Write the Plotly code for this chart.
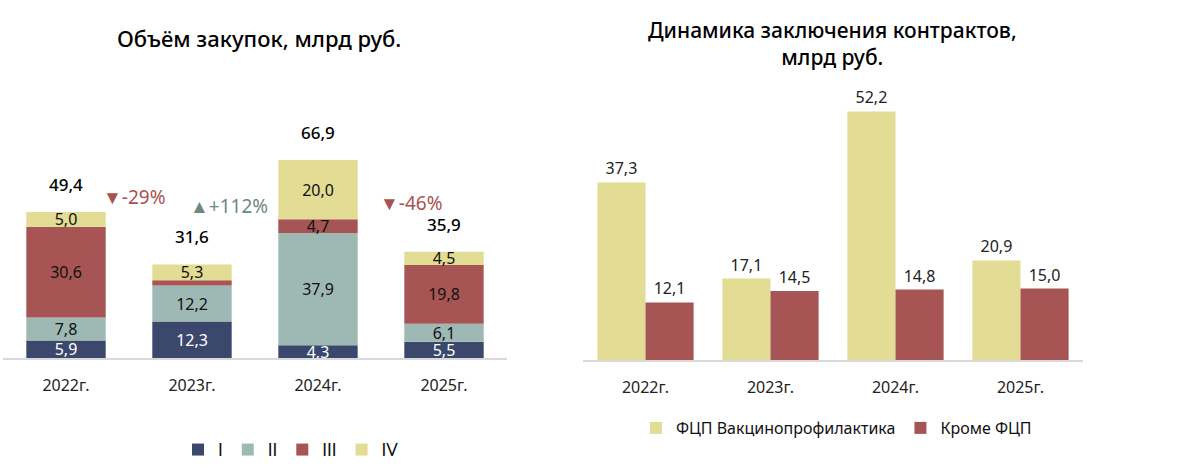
import plotly.graph_objects as go
from plotly.subplots import make_subplots

years = ["2022г.", "2023г.", "2024г.", "2025г."]

# Объём закупок по кварталам, млрд руб.
q1 = [5.9, 12.3, 4.3, 5.5]
q2 = [7.8, 12.2, 37.9, 6.1]
q3 = [30.6, 1.8, 4.7, 19.8]
q4 = [5.0, 5.3, 20.0, 4.5]
totals = [49.4, 31.6, 66.9, 35.9]
changes = ["▼-29%", "▲+112%", "▼-46%"]

# Динамика заключения контрактов, млрд руб.
fcp = [37.3, 17.1, 52.2, 20.9]
krome = [12.1, 14.5, 14.8, 15.0]

c_q1 = "#3b486b"
c_q2 = "#9eb8b4"
c_q3 = "#a65554"
c_q4 = "#e2dc94"
red_txt = "#a9524f"
grn_txt = "#6f8683"
FONT = "Noto Sans"


def lab(vals, skip=()):
    return ["" if i in skip else f"{v:.1f}".replace(".", ",") for i, v in enumerate(vals)]


fig = make_subplots(rows=1, cols=2)

# накопленное основание для ручного стека (overlay-режим)
base = [0.0] * len(years)
quarters = [("I", q1, c_q1, "white", ()), ("II", q2, c_q2, "#111", ()),
            ("III", q3, c_q3, "#111", (1,)), ("IV", q4, c_q4, "#111", ())]
for name, vals, col, tcol, skip in quarters:
    fig.add_trace(go.Bar(x=years, y=vals, base=list(base), name=name,
                         marker=dict(color=col, line=dict(width=0)), width=0.63,
                         text=lab(vals, skip), textposition="inside", insidetextanchor="middle",
                         textfont=dict(color=tcol, size=16, family=FONT), constraintext="none",
                         legend="legend"), row=1, col=1)
    base = [b + v for b, v in zip(base, vals)]

fig.add_trace(go.Bar(x=years, y=fcp, name="ФЦП Вакцинопрофилактика", marker=dict(color=c_q4, line=dict(width=0)),
                     text=lab(fcp), textposition="outside", cliponaxis=False,
                     width=0.385, offset=-0.385,
                     textfont=dict(color="#222", size=16, family=FONT), legend="legend2"), row=1, col=2)
fig.add_trace(go.Bar(x=years, y=krome, name="Кроме ФЦП", marker=dict(color=c_q3, line=dict(width=0)),
                     text=lab(krome), textposition="outside", cliponaxis=False,
                     width=0.385, offset=0.0,
                     textfont=dict(color="#222", size=16, family=FONT), legend="legend2"), row=1, col=2)

# итоги над столбцами
for y, t in zip(years, totals):
    fig.add_annotation(x=y, y=t, text=lab([t])[0], showarrow=False, yanchor="bottom", yshift=14,
                       font=dict(size=17, color="#000", family=FONT, weight=500), xref="x", yref="y")

# изменения год к году
pos = [(0.54, 54.4), (1.29, 51.4), (2.74, 52.4)]
for (px, py), t in zip(pos, changes):
    fig.add_annotation(x=px, y=py, text=t, showarrow=False, xref="x", yref="y",
                       font=dict(size=19, color=grn_txt if "▲" in t else red_txt, family=FONT))

fig.add_annotation(text="Объём закупок, млрд руб.", x=259 / 1200, y=1 - 38 / 474, xref="paper", yref="paper",
                   xanchor="center", yanchor="middle", showarrow=False,
                   font=dict(size=22, color="#000", family=FONT, weight=500))
fig.add_annotation(text="Динамика заключения контрактов,<br>млрд руб.", x=832 / 1200, y=1 - 44 / 474,
                   xref="paper", yref="paper", xanchor="center", yanchor="middle", showarrow=False,
                   font=dict(size=21, color="#000", family=FONT, weight=500))

fig.update_layout(
    barmode="overlay",
    width=1200, height=474,
    margin=dict(l=0, r=0, t=0, b=0),
    plot_bgcolor="white", paper_bgcolor="white",
    separators=", ",
    font=dict(family=FONT, color="#222"),
    uniformtext=dict(minsize=16, mode="show"),
    legend=dict(orientation="h", x=291 / 1200, y=(474 - 450) / 474, xanchor="center", yanchor="middle",
                font=dict(size=17, color="#111", family="Lato"), itemwidth=30, traceorder="normal",
                entrywidth=0),
    legend2=dict(orientation="h", x=0.697, y=(474 - 428) / 474, xanchor="center", yanchor="middle",
                 font=dict(size=16, color="#111", family=FONT), itemwidth=30),
    xaxis=dict(domain=[3 / 1200, 507 / 1200], showline=True, linecolor="#d9d9d9", linewidth=2,
               tickfont=dict(size=16, color="#222"), ticklabelstandoff=12, range=[-0.5, 3.5]),
    yaxis=dict(domain=[(474 - 358) / 474, (474 - 70) / 474], range=[0, 97.3], visible=False),
    xaxis2=dict(domain=[583 / 1200, 1083 / 1200], showline=True, linecolor="#d9d9d9", linewidth=2,
                tickfont=dict(size=16, color="#222"), ticklabelstandoff=12, range=[-0.5, 3.5]),
    yaxis2=dict(domain=[(474 - 360) / 474, (474 - 70) / 474], range=[0, 60.9], visible=False),
)

fig.write_html("out.html", config={"displayModeBar": False},
               post_script="document.body.style.margin='0';")
